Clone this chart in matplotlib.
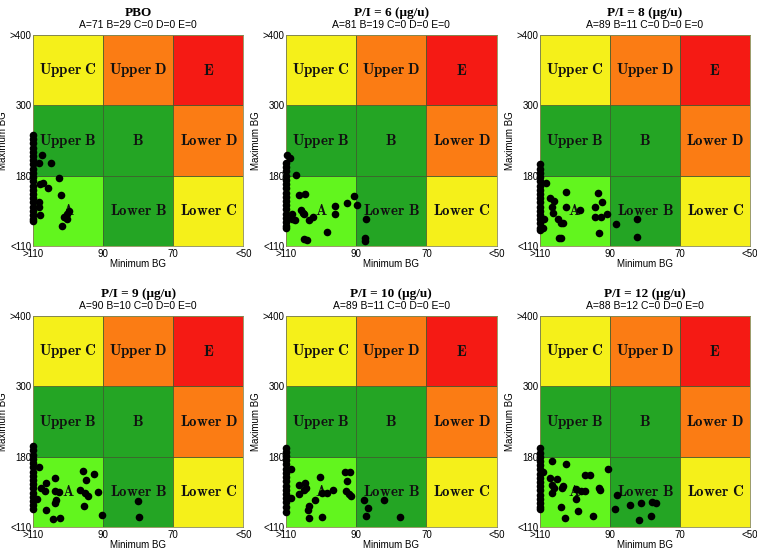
"""
CVGA grids (min BG vs max BG) for placebo and five P/I ratios.
"""
import numpy as np
import matplotlib.pyplot as plt

plt.rcParams['mathtext.fontset'] = 'cm'
plt.rcParams['font.family'] = 'Liberation Sans'

# axis labels of the grid (positions 0..3 on each axis)
x_tick_labels = ['>110', '90', '70', '<50']
y_tick_labels = ['<110', '180', '300', '>400']

# zone names and colours, row by row from the bottom
zone_names = [['A', 'Lower B', 'Lower C'],
              ['Upper B', 'B', 'Lower D'],
              ['Upper C', 'Upper D', 'E']]
zone_colors = [['#62f51e', '#24a524', '#f5f01a'],
               ['#24a524', '#24a524', '#fb7c14'],
               ['#f5f01a', '#fb7c14', '#f51a14']]

titles = ['PBO', 'P/I = 6 (μg/u)', 'P/I = 8 (μg/u)',
          'P/I = 9 (μg/u)', 'P/I = 10 (μg/u)', 'P/I = 12 (μg/u)']
summaries = ['A=71 B=29 C=0 D=0 E=0', 'A=81 B=19 C=0 D=0 E=0',
             'A=89 B=11 C=0 D=0 E=0', 'A=90 B=10 C=0 D=0 E=0',
             'A=89 B=11 C=0 D=0 E=0', 'A=88 B=12 C=0 D=0 E=0']

# subjects clipped at the >110 edge (grid x = 0), only max BG position given
edge_pbo = [1.58, 1.52, 1.46, 1.40, 1.34, 1.28, 1.22, 1.16, 1.10, 1.04, 0.98,
            0.92, 0.86, 0.80, 0.74, 0.68, 0.62, 0.56, 0.50, 0.44, 0.38, 0.35]
edge_pi6 = [1.18, 1.12, 1.06, 1.00, 0.94, 0.88, 0.82, 0.76, 0.70, 0.64, 0.58,
            0.52, 0.46, 0.40, 0.34, 0.28, 0.25]
edge_pi8 = [1.16, 1.10, 1.04, 0.98, 0.92, 0.86, 0.80, 0.74, 0.68, 0.62, 0.56,
            0.50, 0.44, 0.38, 0.32, 0.26, 0.23]
edge_pi9 = [1.15, 1.09, 1.03, 0.97, 0.91, 0.85, 0.79, 0.73, 0.67, 0.61, 0.55,
            0.49, 0.43, 0.37, 0.31, 0.25]
edge_pi10 = [1.13, 1.07, 1.01, 0.95, 0.89, 0.83, 0.77, 0.71, 0.65, 0.59, 0.53,
             0.47, 0.41, 0.35, 0.29, 0.22]
edge_pi12 = [1.12, 1.06, 1.00, 0.94, 0.88, 0.82, 0.76, 0.70, 0.64, 0.58, 0.52,
             0.46, 0.40, 0.34, 0.28, 0.25]

# remaining subjects, grid position (min BG, max BG)
min_pbo = [0.13, 0.09, 0.25, 0.37, 0.14, 0.10, 0.21, 0.40, 0.09, 0.09, 0.10,
           0.51, 0.49, 0.44, 0.49, 0.41]
max_pbo = [1.29, 1.18, 1.18, 0.96, 0.90, 0.88, 0.83, 0.72, 0.62, 0.55, 0.44,
           0.50, 0.45, 0.41, 0.39, 0.29]

min_pi6 = [0.01, 0.06, 0.14, 0.18, 0.27, 0.21, 0.24, 0.26, 0.09, 0.12, 0.08,
           0.32, 0.38, 0.69, 0.69, 0.87, 0.97, 1.01, 0.58, 0.26, 0.30, 1.14,
           1.13, 1.12]
max_pi6 = [1.29, 1.25, 1.01, 0.73, 0.74, 0.51, 0.47, 0.45, 0.46, 0.37, 0.38,
           0.37, 0.41, 0.57, 0.45, 0.61, 0.71, 0.58, 0.20, 0.10, 0.09, 0.39,
           0.12, 0.07]

min_pi8 = [0.09, 0.14, 0.20, 0.18, 0.19, 0.37, 0.38, 0.58, 0.06, 0.05, 0.26,
           0.31, 0.33, 0.27, 0.30, 0.83, 0.89, 0.79, 0.79, 0.88, 0.96, 0.84,
           1.08, 1.38, 1.39]
max_pi8 = [0.89, 0.68, 0.64, 0.56, 0.47, 0.77, 0.56, 0.51, 0.39, 0.25, 0.38,
           0.33, 0.32, 0.11, 0.11, 0.76, 0.62, 0.55, 0.41, 0.41, 0.45, 0.18,
           0.31, 0.38, 0.13]

min_pi9 = [0.08, 0.18, 0.17, 0.12, 0.06, 0.32, 0.32, 0.37, 0.33, 0.31, 0.18,
           0.29, 0.38, 0.71, 0.76, 0.87, 0.67, 0.74, 0.79, 0.92, 0.73, 0.98,
           1.50, 1.51]
max_pi9 = [0.85, 0.63, 0.51, 0.56, 0.40, 0.70, 0.51, 0.50, 0.39, 0.34, 0.24,
           0.11, 0.13, 0.80, 0.67, 0.75, 0.52, 0.49, 0.44, 0.50, 0.30, 0.17,
           0.37, 0.14]

min_pi10 = [0.07, 0.07, 0.18, 0.18, 0.27, 0.28, 0.25, 0.48, 0.51, 0.58, 0.67,
            0.41, 0.32, 0.31, 0.32, 0.51, 0.84, 0.91, 0.87, 0.85, 0.89, 0.93,
            1.11, 1.17, 1.14, 1.40, 1.62]
max_pi10 = [0.82, 0.41, 0.60, 0.47, 0.62, 0.56, 0.52, 0.71, 0.49, 0.49, 0.53,
            0.39, 0.30, 0.24, 0.13, 0.14, 0.79, 0.79, 0.66, 0.51, 0.47, 0.44,
            0.39, 0.27, 0.15, 0.39, 0.14]

min_pi12 = [0.18, 0.37, 0.98, 0.04, 0.14, 0.25, 0.64, 0.72, 0.17, 0.20, 0.33,
            0.32, 0.52, 0.59, 0.65, 0.84, 0.86, 0.18, 0.52, 0.54, 0.31, 0.36,
            0.76, 1.10, 1.07, 1.29, 1.44, 1.41, 1.60, 1.66, 1.59]
max_pi12 = [0.94, 0.90, 0.82, 0.78, 0.70, 0.68, 0.74, 0.74, 0.60, 0.56, 0.58,
            0.55, 0.54, 0.51, 0.51, 0.55, 0.53, 0.48, 0.40, 0.23, 0.28, 0.13,
            0.15, 0.45, 0.25, 0.32, 0.34, 0.10, 0.36, 0.34, 0.15]

edges = [edge_pbo, edge_pi6, edge_pi8, edge_pi9, edge_pi10, edge_pi12]
mins = [min_pbo, min_pi6, min_pi8, min_pi9, min_pi10, min_pi12]
maxs = [max_pbo, max_pi6, max_pi8, max_pi9, max_pi10, max_pi12]

fig = plt.figure(figsize=(7.57, 5.49), dpi=100)

lefts = [0.0436, 0.378, 0.713]
bottoms = [0.552, 0.040]

for k in range(6):
    row, col = divmod(k, 3)
    ax = fig.add_axes([lefts[col], bottoms[row], 0.278, 0.384])

    # zones
    for i in range(3):
        for j in range(3):
            ax.add_patch(plt.Rectangle((j, i), 1, 1, facecolor=zone_colors[i][j],
                                       edgecolor='#3a5a2a', linewidth=0.5, zorder=1))
            name = zone_names[i][j].replace(' ', r'\ ')
            ax.text(j + 0.5, i + 0.5, r'$\mathbf{' + name + '}$', ha='center', va='center',
                    fontsize=10.8, color='#111111', zorder=2)

    # subjects
    ax.scatter(np.zeros(len(edges[k])), edges[k], s=30, color='black', zorder=3,
               clip_on=False, linewidths=0)
    ax.scatter(mins[k], maxs[k], s=30, color='black', zorder=3, clip_on=False,
               linewidths=0)

    ax.set_xlim(0, 3)
    ax.set_ylim(0, 3)
    ax.set_xticks(range(4))
    ax.set_xticklabels(x_tick_labels, fontsize=7)
    ax.set_yticks(range(4))
    ax.set_yticklabels(y_tick_labels, fontsize=7)
    ax.tick_params(length=0, pad=1)
    ax.tick_params(axis='x', pad=2)
    for spine in ax.spines.values():
        spine.set_color('#8a8a50')
        spine.set_linewidth(0.6)

    ax.set_xlabel('Minimum BG', fontsize=7, labelpad=0)
    ax.set_ylabel('Maximum BG', fontsize=7, labelpad=1)

    ax.text(0.5, 1.025, summaries[k], transform=ax.transAxes, ha='center',
            va='bottom', fontsize=7.5)
    ax.text(0.5, 1.075, titles[k], transform=ax.transAxes, ha='center',
            va='bottom', fontsize=9.5, fontweight='bold', family='Liberation Serif')

fig.savefig('out.png', dpi=100)
